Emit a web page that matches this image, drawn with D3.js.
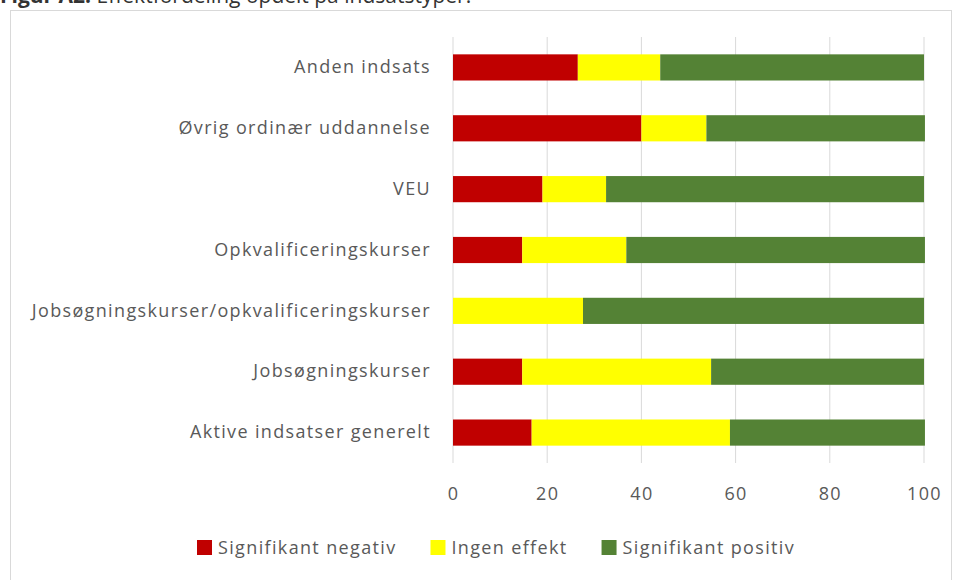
<!DOCTYPE html>
<html>
<head>
<meta charset="utf-8">
<script src="https://cdn.jsdelivr.net/npm/d3@7"></script>
<style>
  body { margin: 0; background: #fff; }
  svg { display: block; font-family: "Open Sans", sans-serif; }
</style>
</head>
<body>
<script>
// data (percent of estimates per type)
const categories = [
  "Anden indsats",
  "Øvrig ordinær uddannelse",
  "VEU",
  "Opkvalificeringskurser",
  "Jobsøgningskurser/opkvalificeringskurser",
  "Jobsøgningskurser",
  "Aktive indsatser generelt"
]
const negativ = [26.5, 40, 19, 14.7, 0, 14.7, 16.7]
const ingen = [17.5, 13.8, 13.5, 22.1, 27.6, 40.1, 42.1]
const positiv = [56, 46.4, 67.5, 63.4, 72.4, 45.2, 41.4]
const seriesNames = ["Signifikant negativ", "Ingen effekt", "Signifikant positiv"]
const colors = ["#c00000", "#ffff00", "#548235"]
const xTicks = [0, 20, 40, 60, 80, 100]

const width = 960
const height = 580
const plotLeft = 453, plotRight = 924, plotTop = 37, plotBottom = 463

const rows = categories.map((c, i) => ({
  cat: c,
  "Signifikant negativ": negativ[i],
  "Ingen effekt": ingen[i],
  "Signifikant positiv": positiv[i]
}))
const stacked = d3.stack().keys(seriesNames)(rows)

const svg = d3.select("body").append("svg")
  .attr("width", width)
  .attr("height", height)

// title (cut off at the top like the source)
const title = svg.append("text")
  .attr("x", 0)
  .attr("y", 3)
  .style("font-size", "21px")
  .style("fill", "#333")
title.append("tspan").style("font-weight", "bold").text("Figur A2.")
title.append("tspan").text(" Effektfordeling opdelt på indsatstyper.")

// frame
svg.append("rect")
  .attr("x", 10.5).attr("y", 10.5)
  .attr("width", 941).attr("height", 600)
  .attr("fill", "none")
  .attr("stroke", "#d9d9d9")

const x = d3.scaleLinear().domain([0, 100]).range([plotLeft, plotRight])
const y = d3.scaleBand().domain(categories).range([plotTop, plotBottom])
  .paddingInner(0.57).paddingOuter(0.285)

// gridlines
svg.append("g")
  .selectAll("line")
  .data(xTicks)
  .enter().append("line")
  .attr("x1", d => x(d)).attr("x2", d => x(d))
  .attr("y1", plotTop).attr("y2", plotBottom)
  .attr("stroke", "#d9d9d9")
  .attr("stroke-width", 1)

// bars
svg.append("g")
  .selectAll("g")
  .data(stacked)
  .enter().append("g")
  .attr("fill", (d, i) => colors[i])
  .selectAll("rect")
  .data(d => d)
  .enter().append("rect")
  .attr("x", d => x(d[0]))
  .attr("width", d => x(d[1]) - x(d[0]))
  .attr("y", d => y(d.data.cat))
  .attr("height", y.bandwidth())

// axes
const yAxis = d3.axisLeft(y).tickSize(0).tickPadding(22)
const gY = svg.append("g")
  .attr("transform", "translate(" + plotLeft + ",0)")
  .call(yAxis)
gY.select(".domain").remove()
gY.selectAll("text")
  .style("font-size", "18px")
  .style("letter-spacing", "1.35px")
  .style("fill", "#595959")
  .style("font-family", "Open Sans")

const xAxis = d3.axisBottom(x).tickValues(xTicks).tickSize(0).tickPadding(24)
const gX = svg.append("g")
  .attr("transform", "translate(0," + plotBottom + ")")
  .call(xAxis)
gX.select(".domain").remove()
gX.selectAll("text")
  .style("font-size", "18px")
  .style("letter-spacing", "1.35px")
  .style("fill", "#595959")
  .style("font-family", "Open Sans")

// legend
const legend = svg.append("g").attr("id", "legend")
let lx = 197
seriesNames.forEach((name, i) => {
  legend.append("rect")
    .attr("x", lx).attr("y", 540)
    .attr("width", 15).attr("height", 15)
    .attr("fill", colors[i])
  const t = legend.append("text")
    .attr("x", lx + 21).attr("y", 554)
    .style("font-size", "18px")
    .style("letter-spacing", "1.35px")
    .style("fill", "#595959")
    .text(name)
  lx = lx + 21 + t.node().getComputedTextLength() + 34
})
</script>
</body>
</html>
